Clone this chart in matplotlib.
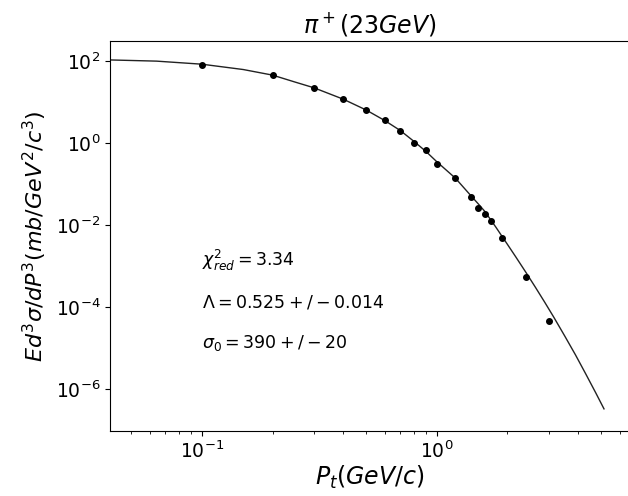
import numpy as np
import matplotlib
matplotlib.use("Agg")
import matplotlib.pyplot as plt
from matplotlib.ticker import NullLocator, LogLocator, NullFormatter

# measured points (pi+, 23 GeV)
pt = [0.1, 0.2, 0.3, 0.4, 0.5, 0.6, 0.7, 0.8, 0.9, 1.0, 1.2, 1.4,
      1.5, 1.6, 1.7, 1.9, 2.4, 3.0]
sig = [83, 46, 22, 11.8, 6.5, 3.6, 2.0, 1.04, 0.69, 0.32, 0.14, 0.049,
       0.027, 0.019, 0.013, 0.0048, 5.4e-4, 4.5e-5]

# fitted curve
pt_fit = [0.0406, 0.0641, 0.1, 0.15, 0.2, 0.25, 0.3, 0.4, 0.5, 0.6, 0.7,
          0.8, 0.9, 1.0, 1.2, 1.4, 1.5, 1.6, 1.782, 2.0, 2.168, 2.399, 2.636,
          2.884, 3.155, 3.508, 3.899, 4.305, 4.753, 5.152]
sig_fit = [108, 101, 85, 63, 46, 31, 22.6, 11.9, 6.5, 3.6, 2.04,
           1.11, 0.63, 0.355, 0.141, 0.052, 0.0335, 0.0219, 9.1e-3, 3.4e-3,
           1.7e-3, 7.0e-4, 3.0e-4, 1.31e-4, 5.6e-5, 1.97e-5, 6.8e-6,
           2.37e-6, 8.1e-7, 3.3e-7]

fig = plt.figure(figsize=(6.28, 4.96), dpi=100)
ax = fig.add_axes([0.175, 0.131, 0.827, 0.786])

ax.plot(pt_fit, sig_fit, color='#222222', lw=1.0)
ax.plot(pt, sig, 'o', color='black', markersize=4)

ax.set_xscale('log')
ax.set_yscale('log')
ax.set_xlim(0.0406, 6.6)
ax.set_ylim(9.5e-8, 3.1e2)
ax.yaxis.set_major_locator(LogLocator(base=10, numticks=6))
ax.yaxis.set_minor_locator(NullLocator())
ax.xaxis.set_minor_formatter(NullFormatter())

ax.text(0.1, 1e-3, r'$\chi^2_{red} = 3.34$', fontsize=12.5)
ax.text(0.1, 1e-4, r'$\Lambda = 0.525+/-0.014$', fontsize=12.5)
ax.text(0.1, 1e-5, r'$\sigma_0 = 390+/-20$', fontsize=12.5)

ax.set_title(r'$\pi^+(23GeV)$', fontsize=17)
ax.set_xlabel(r'$P_t(GeV/c)$', fontsize=17, labelpad=1)
ax.set_ylabel(r'$Ed^3\sigma/dP^3(mb/GeV^2/c^3)$', fontsize=16, labelpad=5)
ax.tick_params(labelsize=13.5)

plt.savefig('out.png', dpi=100)
